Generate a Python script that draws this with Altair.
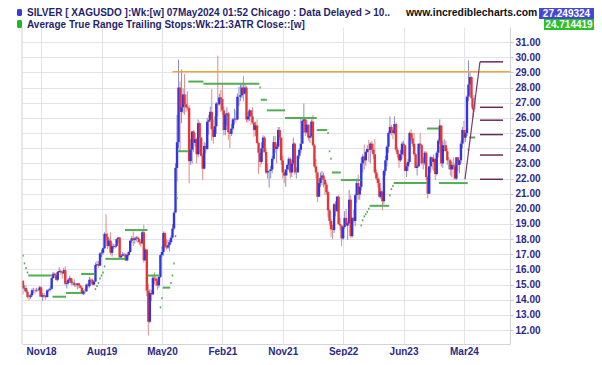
import altair as alt
import pandas as pd

# ---------------- data (weekly bars, week 0 = w/e 17 Aug 2018) -------------
first_open = 15.25
close_2018 = [14.75,14.78,14.53,14.18,14.17,14.30,14.63,14.62,14.60,14.63,14.62,14.82,14.20,14.30,14.25,14.18,14.62,14.65,14.72,15.43]
high_2018 = [15.30,14.95,14.95,14.65,14.35,14.40,14.75,14.80,14.75,14.80,14.75,14.90,14.90,14.45,14.45,14.35,14.70,14.75,14.90,15.50]
low_2018 = [14.35,14.55,14.45,14.10,13.96,14.05,14.20,14.45,14.40,14.50,14.55,14.20,14.20,13.90,14.10,14.00,14.15,14.50,14.55,14.70]

close_2019 = [15.72,15.62,15.32,15.83,15.90,15.80,15.75,15.95,15.05,15.10,15.33,15.42,15.10,15.12,14.97,14.98,15.08,14.94,14.80,14.40,14.55,14.55,15.00,14.90,15.32,15.30,15.00,15.20,16.30,16.35,16.25,17.05,17.10,17.40,18.35,18.15,17.55,17.90,17.10,17.55,17.50,17.55,18.00,18.10,16.80,16.90,17.00,17.00,16.60,16.95,17.15,17.90]
high_2019 = [15.85,15.80,15.75,15.90,16.15,16.00,15.85,16.10,16.20,15.25,15.40,15.60,15.45,15.25,15.35,15.05,15.10,15.10,14.98,14.90,14.65,14.70,15.05,15.10,15.50,15.45,15.40,15.25,16.45,16.55,16.55,17.15,17.30,17.45,18.45,19.65,18.40,18.05,18.45,17.75,17.70,17.65,18.05,18.15,18.15,17.00,17.15,17.10,17.05,17.05,17.20,17.95]
low_2019 = [15.40,15.55,15.25,15.20,15.80,15.65,15.40,15.70,14.95,14.75,15.00,15.20,14.95,14.95,14.85,14.85,14.70,14.75,14.75,14.35,14.30,14.35,14.55,14.75,14.80,15.10,14.95,14.95,15.20,16.20,16.10,16.25,16.80,16.95,17.35,17.95,17.35,17.45,16.95,16.85,17.35,17.40,17.45,17.75,16.75,16.65,16.90,16.85,16.55,16.55,16.85,17.10]

close_2020 = [18.05,17.95,18.05,18.10,18.00,17.80,17.72,18.45,16.60,17.30,14.60,12.55,14.45,14.35,15.45,15.40,15.25,14.95,15.50,16.95,17.15,18.40,17.50,17.45,17.60,17.80,18.10,18.70,19.75,22.70,24.40,28.00,26.40,26.70,27.55,26.90,26.70,26.65,23.15,23.90,25.10,24.35,24.60,23.60,25.65,24.70,23.50,22.65,24.15,23.95,25.75,25.85]
high_2020 = [18.20,18.50,18.15,18.20,18.20,18.10,17.80,18.60,18.95,17.40,17.35,15.05,14.70,14.65,15.65,15.80,15.55,15.40,15.55,17.00,17.55,18.50,18.50,18.00,17.95,17.95,18.25,19.00,19.85,23.00,26.20,29.85,28.40,29.20,27.95,28.90,27.55,27.75,26.85,24.60,25.15,25.20,25.00,24.70,25.90,25.75,24.75,23.65,24.40,24.35,26.00,26.20]
low_2020 = [17.75,17.55,17.70,17.85,17.75,17.60,17.50,17.75,16.45,16.60,14.25,11.64,12.45,13.90,14.40,15.00,14.90,14.65,14.80,15.45,16.80,16.90,17.40,17.30,17.35,17.20,17.70,18.05,18.60,19.80,21.80,24.00,23.80,25.65,26.30,26.20,26.40,26.50,21.70,22.90,23.00,23.75,24.10,23.00,23.40,23.60,23.45,21.90,22.60,23.65,23.90,24.90]

close_2021 = [26.40,25.25,24.75,25.45,26.95,26.90,27.35,27.25,26.50,25.20,26.20,26.30,25.05,24.95,25.30,25.90,25.95,25.90,27.40,27.40,27.50,28.00,27.60,28.00,25.90,26.10,26.50,26.10,25.70,25.20,25.50,24.35,23.70,23.10,24.00,24.70,23.75,22.40,22.50,22.50,22.60,23.30,24.40,23.95,24.10,25.20,24.70,23.20,22.40,22.20,22.60,22.90,23.30]
high_2021 = [26.75,27.90,25.90,26.10,27.05,30.10,27.60,27.85,28.30,26.75,26.30,26.70,26.40,25.20,25.60,26.00,26.60,26.50,27.60,28.05,28.20,28.30,28.75,28.30,28.10,26.40,26.60,26.50,26.70,25.70,25.75,25.90,24.40,23.95,24.40,24.85,24.80,24.00,23.00,22.60,22.85,23.50,24.80,24.80,24.30,25.40,25.40,24.75,23.50,22.40,22.60,22.95,23.40]
low_2021 = [25.75,24.50,24.30,24.80,24.95,26.10,26.80,26.40,26.20,24.85,24.85,25.50,24.55,24.00,24.80,25.20,25.55,25.70,25.85,26.80,27.10,27.30,27.10,27.55,25.70,25.70,25.80,25.55,25.60,24.75,24.80,24.30,22.30,22.75,22.95,23.70,23.70,22.30,22.00,21.40,22.00,22.35,23.20,23.70,23.00,24.00,24.55,22.90,22.00,21.70,21.45,22.20,22.55]

close_2022 = [22.40,23.00,24.30,22.40,22.40,23.50,23.90,24.30,25.80,25.90,25.05,25.55,24.70,24.80,25.75,24.20,22.80,22.40,20.80,21.70,22.05,22.20,21.90,21.60,21.10,19.90,19.20,18.65,18.60,20.30,19.85,20.80,19.00,18.90,18.05,18.80,19.40,18.90,19.05,20.60,18.20,19.40,19.20,20.90,21.70,20.95,21.45,23.00,23.45,23.20,23.75,23.95]
high_2022 = [23.40,23.20,24.70,24.40,22.75,23.55,24.00,26.00,25.90,26.95,26.00,25.85,25.50,24.90,25.90,26.20,24.30,23.30,22.45,21.95,22.40,22.50,22.40,22.00,21.75,21.25,20.00,19.35,18.95,20.40,20.50,20.85,20.90,19.40,18.90,18.90,19.85,20.00,19.20,21.25,20.90,19.45,19.95,21.00,22.00,22.25,21.50,23.40,23.60,24.25,23.85,24.20]
low_2022 = [22.00,22.10,22.90,22.25,22.00,22.40,23.30,23.70,24.30,25.00,24.80,24.95,24.50,24.35,24.70,24.10,22.70,22.00,20.45,20.80,21.45,21.55,21.40,20.90,20.95,19.45,18.90,18.15,18.00,18.40,19.50,19.80,18.95,18.55,17.55,17.95,18.70,18.90,17.95,19.00,18.10,18.10,19.10,18.85,20.40,20.60,20.60,21.20,22.40,22.60,22.85,23.70]

close_2023 = [23.90,24.30,23.90,23.60,22.40,22.00,21.70,20.80,21.15,20.50,22.50,23.20,24.10,25.00,25.40,25.20,25.00,25.60,23.90,23.60,23.20,23.60,24.30,24.20,22.50,22.80,23.10,25.00,24.65,24.30,23.60,22.70,22.80,24.30,24.20,23.00,23.00,23.70,22.10,21.00,22.80,23.40,23.10,23.30,22.30,23.70,24.50,25.50,23.00,24.20,24.20,23.80]
high_2023 = [24.55,24.40,24.50,24.30,24.60,22.60,22.30,22.00,21.35,21.00,22.60,23.50,24.20,25.10,26.10,25.55,25.30,26.10,25.70,24.05,23.70,23.90,24.45,24.50,24.20,23.00,23.30,25.10,25.25,25.00,25.00,23.70,22.90,24.30,25.00,24.30,23.40,23.80,23.80,22.20,22.80,23.50,23.40,23.60,23.30,23.80,24.60,25.90,25.50,24.50,24.60,24.50]
low_2023 = [23.10,23.00,23.70,23.30,22.30,21.90,21.40,20.70,20.65,19.90,20.30,22.20,22.80,23.70,24.90,24.85,24.60,24.90,23.75,23.40,22.70,23.10,23.30,23.50,22.50,22.10,22.50,23.00,24.50,24.10,23.50,22.70,22.20,22.80,24.00,22.90,22.60,22.90,21.90,20.70,21.00,22.40,22.60,22.50,21.90,22.20,23.40,24.30,22.80,22.70,23.80,23.80]

close_2024 = [23.20,23.20,22.60,22.90,22.80,22.00,23.40,22.90,23.20,24.30,25.20,24.70,25.00,27.40,28.20,28.70,27.30,26.55,27.25]
high_2024 = [24.00,23.40,23.30,23.10,23.40,23.00,23.40,23.35,23.20,24.50,25.40,25.80,25.20,27.50,29.80,29.10,28.75,27.50,27.50]
low_2024 = [22.90,22.60,22.20,22.10,22.60,21.93,21.90,22.50,22.35,23.00,24.00,24.40,24.40,24.80,27.10,27.50,26.70,26.00,26.40]

# ATR trailing stop runs: first week, last week, level
stop_start = [0,1,2,3,4,20,29,39,48,49,50,51,52,53,54,55,68,83,91,92,93,98,99,100,101,102,103,110,120,157,158,162,174,195,202,203,204,205,211,224,225,226,227,228,229,230,243,244,245,246,268,276,295,296]
stop_end   = [0,1,2,3,19,28,38,47,48,49,50,51,52,53,54,67,82,90,91,92,97,98,99,100,101,102,109,119,156,157,161,173,194,201,202,203,204,210,223,224,225,226,227,228,229,242,243,244,245,267,275,294,295,299]
stop_level = [16.9,16.4,16.1,15.8,15.6,14.2,14.45,15.7,14.7,14.9,15.1,15.4,15.6,15.8,16.2,16.7,18.6,15.6,13.5,14.1,14.8,15.1,15.6,16.4,18.2,20.7,23.8,28.4,28.26,28.0,27.2,26.5,26.0,25.2,25.0,23.8,23.3,22.4,21.9,18.9,19.25,19.5,19.65,19.8,20.0,20.2,20.9,21.3,21.5,21.7,25.3,21.7,23.9,24.71]

# drawn studies
res_level = 29.05
res_from, res_to = 99, 322.5
fib_levels = [29.7, 26.7, 25.85, 24.9, 23.55, 21.95]
fib_from, fib_to = 302.6, 317.9
diag_idx = [292.7, 302.6]
diag_val = [21.95, 29.7]

x_tick_idx = [12, 52, 92, 132, 172, 212, 252, 292]
x_tick_labels = ["Nov18", "Aug19", "May20", "Feb21", "Nov21", "Sep22", "Jun23", "Mar24"]
y_ticks = list(range(12, 32))

title_1 = "SILVER [ XAGUSDO ]:Wk:[w]  07May2024 01:52 Chicago : Data Delayed > 10.."
title_2 = "Average True Range Trailing Stops:Wk:21:3ATR Close::[w]"
site = "www.incrediblecharts.com"
last_price = "27.249324"
last_stop = "24.714419"

# ---------------- build ----------------
closes = close_2018 + close_2019 + close_2020 + close_2021 + close_2022 + close_2023 + close_2024
highs = high_2018 + high_2019 + high_2020 + high_2021 + high_2022 + high_2023 + high_2024
lows = low_2018 + low_2019 + low_2020 + low_2021 + low_2022 + low_2023 + low_2024
opens = [first_open] + closes[:-1]
n = len(closes)

BODY = {"up": "#3434e2", "down": "#e43636", "last": "#a9b3f3"}
WICK = {"up": "#8c8cca", "down": "#dc8c8c", "last": "#b9c1f3"}
rows = []
for i in range(n):
    o, c = opens[i], closes[i]
    d = "last" if i == n - 1 else ("up" if c >= o else "down")
    rows.append({"i": i, "o": o, "c": c, "h": max(highs[i], o, c), "l": min(lows[i], o, c),
                 "bc": BODY[d], "wc": WICK[d]})
bars = pd.DataFrame(rows)

stops = pd.DataFrame({"x0": [s - 0.5 for s in stop_start], "x1": [e + 0.5 for e in stop_end], "v": stop_level})
res = pd.DataFrame({"x0": [res_from], "x1": [res_to], "v": [res_level]})
fib = pd.DataFrame({"x0": [fib_from] * len(fib_levels), "x1": [fib_to] * len(fib_levels), "v": fib_levels})
diag = pd.DataFrame({"i": diag_idx, "v": diag_val})

W, H = 488, 317
FONT = "Liberation Sans"
NAVY = "#2a2a88"
GRID = "#e2e2e8"
EDGE = "#d2d2d8"

xs = alt.Scale(domain=[-0.66, 322.5], nice=False, zero=False)
ys = alt.Scale(domain=[11.08, 32.0], nice=False, zero=False)

label_expr = "[" + ",".join("'" + t + "'" for t in x_tick_labels) + "][round((datum.value-12)/40)]"
x_axis = alt.Axis(values=x_tick_idx, labelExpr=label_expr, grid=True, gridColor=GRID, ticks=False,
                  domainColor=EDGE, labelFont=FONT, labelFontWeight="bold", labelFontSize=10,
                  labelColor=NAVY, labelPadding=2, title=None, labelOverlap=False)
y_axis = alt.Axis(orient="right", values=y_ticks, format=".2f", grid=True, gridColor=GRID,
                  tickSize=3, tickColor="#c4c4cc", domainColor=EDGE, labelFont=FONT,
                  labelFontWeight="bold", labelFontSize=10, labelColor=NAVY, labelPadding=2,
                  title=None, labelOverlap=False)


def X(field):
    return alt.X(field, type="quantitative", scale=xs, axis=x_axis)


def Y(field):
    return alt.Y(field, type="quantitative", scale=ys, axis=y_axis)


wick = alt.Chart(bars).mark_rule(strokeWidth=1).encode(
    x=X("i"), y=Y("l"), y2="h:Q", color=alt.Color("wc:N", scale=None))
body = alt.Chart(bars).mark_rule(strokeWidth=2.4).encode(
    x=X("i"), y=Y("o"), y2="c:Q", color=alt.Color("bc:N", scale=None))
stop_layer = alt.Chart(stops).mark_rule(strokeWidth=2, color="#52ae52").encode(
    x=X("x0"), x2="x1:Q", y=Y("v"))
res_layer = alt.Chart(res).mark_rule(strokeWidth=1.5, color="#f0a436").encode(
    x=X("x0"), x2="x1:Q", y=Y("v"))
fib_layer = alt.Chart(fib).mark_rule(strokeWidth=1.5, color="#6a2b5c").encode(
    x=X("x0"), x2="x1:Q", y=Y("v"))
diag_layer = alt.Chart(diag).mark_line(strokeWidth=1.2, color="#7a3a6a").encode(
    x=X("i"), y=Y("v"))
left_edge = alt.Chart(pd.DataFrame({"a": [0]})).mark_rule(color=EDGE).encode(
    x=alt.value(0), y=alt.value(0), y2=alt.value(H))


def text(t, x, y, size=10, color=NAVY, align="left"):
    return alt.Chart(pd.DataFrame({"t": [t]})).mark_text(
        font=FONT, fontSize=size, fontWeight="bold", color=color, align=align,
        baseline="alphabetic").encode(x=alt.value(x), y=alt.value(y), text="t:N")


def box(x0, x1, y0, y1, color, r=0):
    return alt.Chart(pd.DataFrame({"a": [0]})).mark_rect(color=color, cornerRadius=r).encode(
        x=alt.value(x0), x2=alt.value(x1), y=alt.value(y0), y2=alt.value(y1))


header = [
    box(-5, 0, -18, -11, "#3a3ad6", 1.5),
    text(title_1, 5, -11.5, color="#1f1f6e"),
    box(-5, 0, -7, 1, "#22b822", 1.5),
    text(title_2, 5, 0.5, color="#1f1f6e"),
    text(site, 384, -11.5, size=10.4, color="#111111"),
    box(517, 572, -19, -8, "#4646d6"),
    text(last_price, 544.5, -10, size=10, color="#ffffff", align="center"),
    box(522, 572, -8, 3, "#2cbf2c"),
    text(last_stop, 547, 1, size=10, color="#ffffff", align="center"),
]

chart = alt.layer(
    wick, body, stop_layer, res_layer, fib_layer, diag_layer, left_edge, *header
).properties(
    width=W, height=H,
    autosize=alt.AutoSizeParams(type="none"),
    padding={"left": 14, "top": 19, "right": 84, "bottom": 12},
    background="#ffffff",
).configure_view(strokeWidth=0)

chart.save("out.html", embed_options={"renderer": "svg", "actions": False})
